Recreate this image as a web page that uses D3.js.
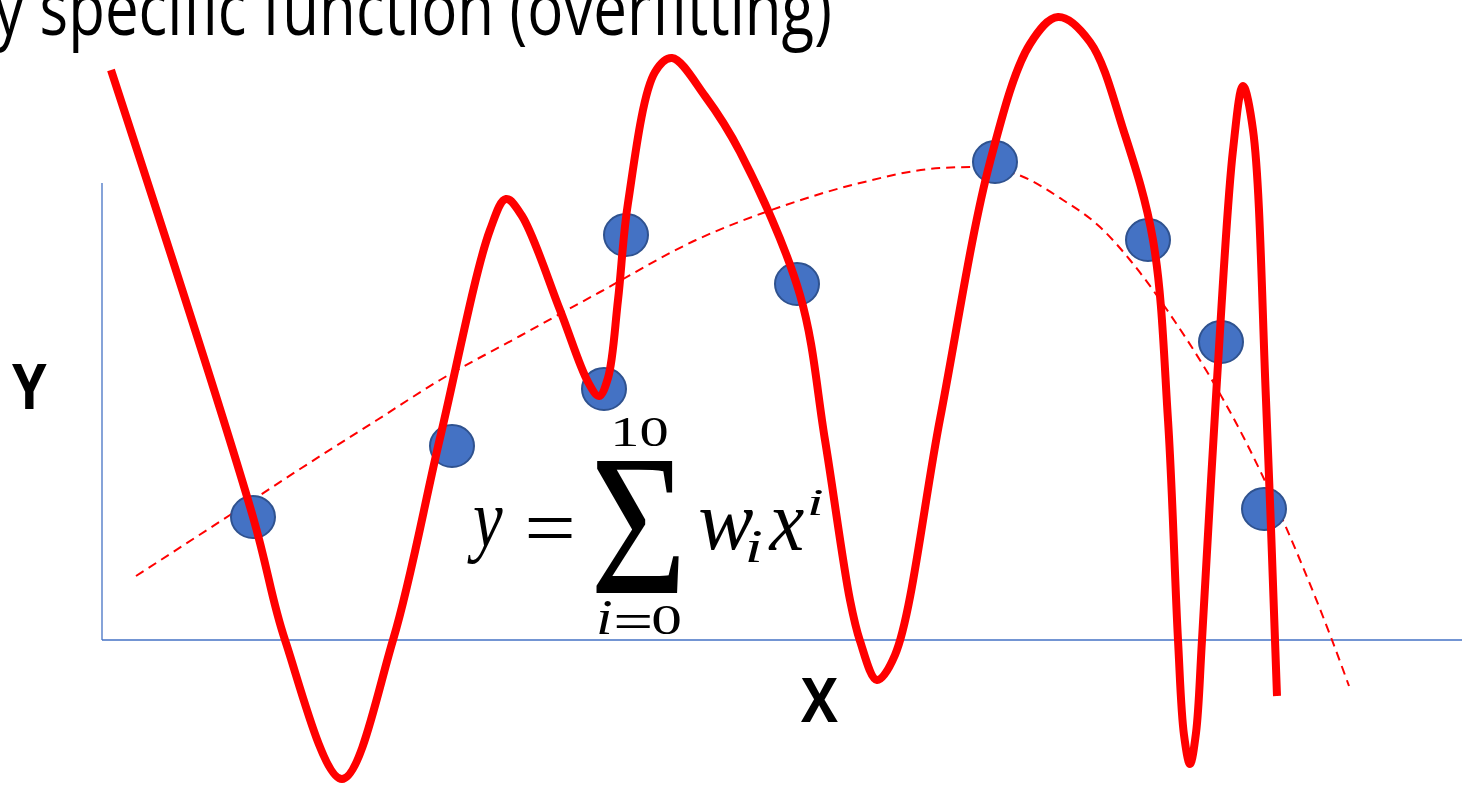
<!DOCTYPE html>
<html>
<head>
<meta charset="utf-8">
<script src="https://cdn.jsdelivr.net/npm/d3@7/dist/d3.min.js"></script>
<style>
  html, body { margin: 0; padding: 0; background: #ffffff; overflow: hidden; }
  svg { display: block; }
</style>
</head>
<body>
<svg id="chart" width="1463" height="789"></svg>
<script>
// Training samples (x, y) in plot units; origin at the axis corner.
const sampleX = [151, 350, 502, 524, 695, 893, 1046, 1119, 1162];
const sampleY = [123, 194, 251, 405, 356, 478, 400, 298, 131];

// Degree-10 polynomial that passes through every sample (overfit curve):
// turning points plus a few points on each flank.
const overfitX = [9, 151, 183, 240, 291, 338, 388, 404, 420, 458, 486, 497, 506, 516, 526, 553, 570, 603, 638, 698,
  723, 748, 758, 775, 793, 838, 888, 928, 956, 988, 1022, 1051, 1066, 1076, 1082, 1088, 1094, 1100, 1115, 1131,
  1141, 1151, 1164, 1175];
const overfitY = [570, 123, 0, -139, 0, 202, 410, 441, 424, 330, 258, 244, 262, 340, 437, 568, 582, 544, 488, 345,
  200, 40, -1, -40, -15, 221, 478, 596, 623, 598, 508, 400, 220, 0, -95, -124, -93, 0, 260, 490,
  554, 510, 240, -56];

// Smooth low-order trend (dashed reference curve).
const trendX = [34, 128, 198, 275, 338, 418, 498, 594, 678, 758, 838, 871, 911, 961, 998, 1028, 1063, 1148, 1198, 1230, 1247];
const trendY = [64, 125, 171, 220, 260, 304, 348, 400, 433, 457, 472, 473, 467, 440, 413, 380, 333, 190, 80, 0, -46];

const titleText = "Highly specific function (overfitting)";
const titleVisible = "y specific function (overfitting)";
const axisLabelX = "X";
const axisLabelY = "Y";

const svg = d3.select("#chart");

const x = d3.scaleLinear().domain([0, 1360]).range([102, 1462]);
const y = d3.scaleLinear().domain([0, 457]).range([640, 183]);

const blue = "#4472C4";

// Canvas used to read the ink bounds of glyphs so text can be fitted to a box.
const ctx = document.createElement("canvas").getContext("2d");
function inkOf(str, font) {
  ctx.font = font;
  const m = ctx.measureText(str);
  return { l: m.actualBoundingBoxLeft, r: m.actualBoundingBoxRight, a: m.actualBoundingBoxAscent, d: m.actualBoundingBoxDescent, w: m.width };
}
function fitText(parent, str, family, weight, style, box, mode) {
  const size = 100;
  const font = `${style} ${weight} ${size}px ${family}`;
  const ink = inkOf(str, font);
  let sx = (box[2] - box[0]) / (ink.l + ink.r);
  let sy = (box[3] - box[1]) / (ink.a + ink.d);
  if (mode === "h") sx = sy;
  if (mode === "w") sy = sx;
  const tx = box[0] + ink.l * sx;
  const ty = box[1] + ink.a * sy;
  return parent.append("text")
    .attr("transform", `translate(${tx},${ty}) scale(${sx},${sy})`)
    .style("font-family", family)
    .style("font-weight", weight)
    .style("font-style", style)
    .style("font-size", size + "px")
    .attr("fill", "#000")
    .text(str);
}

// Axes
svg.append("line")
  .attr("x1", x(0)).attr("x2", x(0))
  .attr("y1", y(0)).attr("y2", y(457))
  .attr("stroke", blue).attr("stroke-width", 1.3);
svg.append("line")
  .attr("x1", x(0)).attr("x2", x(1360))
  .attr("y1", y(0)).attr("y2", y(0))
  .attr("stroke", blue).attr("stroke-width", 1.3);

// Title (runs off the left edge)
{
  const fam = "'Open Sans'";
  const font = `normal 400 100px ${fam}`;
  const vis = inkOf(titleVisible, font);
  const prefix = inkOf(titleText.slice(0, titleText.length - titleVisible.length), font);
  const s = (830 - (-6)) / (vis.l + vis.r);
  const sy = s * 1.25;
  const tx = -6 + vis.l * s - prefix.w * s;
  const ty = 35;
  svg.append("text")
    .attr("transform", `translate(${tx},${ty}) scale(${s},${sy})`)
    .style("font-family", fam)
    .style("font-size", "100px")
    .attr("fill", "#000")
    .text(titleText);
}

// Axis labels
fitText(svg, axisLabelY, "'Open Sans'", 700, "normal", [12, 364, 47, 409]);
fitText(svg, axisLabelX, "'Open Sans'", 700, "normal", [801, 678, 838, 722]);

// Dashed trend
const trend = d3.zip(trendX, trendY);
svg.append("path")
  .datum(trend)
  .attr("d", d3.line().x(d => x(d[0])).y(d => y(d[1])).curve(d3.curveMonotoneX))
  .attr("fill", "none")
  .attr("stroke", "#FF0000")
  .attr("stroke-width", 2)
  .attr("stroke-dasharray", "9,6");

// Sample points
svg.append("g").selectAll("ellipse")
  .data(d3.zip(sampleX, sampleY))
  .join("ellipse")
  .attr("cx", d => x(d[0]))
  .attr("cy", d => y(d[1]))
  .attr("rx", 22)
  .attr("ry", 21)
  .attr("fill", blue)
  .attr("stroke", "#2F528F")
  .attr("stroke-width", 2);

// Overfit curve
const overfit = d3.zip(overfitX, overfitY);
svg.append("path")
  .datum(overfit)
  .attr("d", d3.line().x(d => x(d[0])).y(d => y(d[1])).curve(d3.curveCatmullRom.alpha(0.5)))
  .attr("fill", "none")
  .attr("stroke", "#FF0000")
  .attr("stroke-width", 8)
  .attr("stroke-linejoin", "round")
  .attr("stroke-linecap", "butt");

// Formula  y = Σ_{i=0}^{10} w_i x^i
const f = svg.append("g");
const serif = "'Liberation Serif'";
fitText(f, "y", serif, 400, "italic", [467, 507, 503, 563]);
fitText(f, "=", serif, 400, "normal", [528, 518, 572, 538]);
fitText(f, "\u03A3", serif, 400, "normal", [595, 462, 680, 595]);
fitText(f, "10", serif, 400, "normal", [615, 418, 667, 447]);
fitText(f, "i", serif, 400, "italic", [599, 601, 611, 635]);
fitText(f, "=", serif, 400, "normal", [616, 615, 650, 628]);
fitText(f, "0", serif, 400, "normal", [653, 606, 680, 635]);
fitText(f, "w", serif, 400, "italic", [700, 510, 753, 550]);
fitText(f, "i", serif, 400, "italic", [748, 531, 761, 562]);
fitText(f, "x", serif, 400, "italic", [768, 510, 804, 550]);
fitText(f, "i", serif, 400, "italic", [810, 489, 822, 515]);
</script>
</body>
</html>
